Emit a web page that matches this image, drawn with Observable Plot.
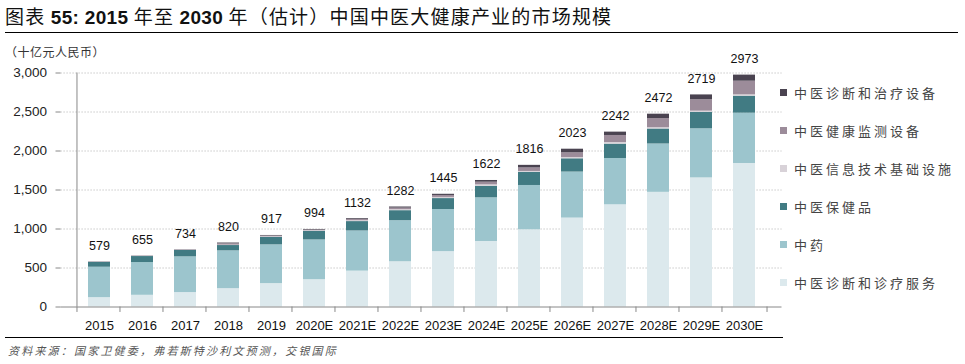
<!DOCTYPE html>
<html><head><meta charset="utf-8">
<script src="https://cdn.jsdelivr.net/npm/d3@7"></script>
<script src="https://cdn.jsdelivr.net/npm/@observablehq/plot@0.6"></script>
<style>
body{margin:0;background:#fff;}
#wrap{position:relative;width:965px;height:364px;overflow:hidden;font-family:"Noto Sans CJK SC",sans-serif;background:#fff;}
#chart{position:absolute;left:0;top:0;}
#title{position:absolute;left:5px;top:4px;font-size:19px;letter-spacing:1.2px;color:#111;white-space:nowrap;line-height:24px;}
#title b{font-family:"Liberation Sans",Arial,sans-serif;font-weight:bold;letter-spacing:0.3px;}
#tline{position:absolute;left:5px;top:32px;width:953px;height:1px;background:#000;}
#unit{position:absolute;left:5px;top:43px;font-size:12px;color:#333;letter-spacing:0.5px;white-space:nowrap;}
#bline{position:absolute;left:5px;top:337px;width:778px;height:1.3px;background:#000;}
#source{position:absolute;left:8px;top:342px;font-size:11px;font-style:italic;letter-spacing:2.2px;color:#555;white-space:nowrap;}
.lg{position:absolute;left:780px;height:16px;display:flex;align-items:center;white-space:nowrap;font-size:13px;letter-spacing:3px;color:#444;}
.lg i{display:inline-block;width:7px;height:7px;margin-right:7px;}
</style></head><body><div id="wrap">
<div id="chart"></div>
<div id="title">图表 <b>55: 2015</b> 年至 <b>2030</b> 年（估计）中国中医大健康产业的市场规模</div>
<div id="tline"></div>
<div id="unit">（十亿元人民币）</div>
<div id="legend"></div>
<div id="bline"></div>
<div id="source">资料来源：国家卫健委，弗若斯特沙利文预测，交银国际</div>
</div>
<script>
const years = ["2015","2016","2017","2018","2019","2020E","2021E","2022E","2023E","2024E","2025E","2026E","2027E","2028E","2029E","2030E"];
const series = ["中医诊断和诊疗服务","中药","中医保健品","中医信息技术基础设施","中医健康监测设备","中医诊断和治疗设备"];
const service = [120,150,185,235,300,350,460,580,710,840,990,1140,1310,1470,1655,1840];
const herbs   = [390,420,458,485,497,510,515,527,540,560,568,590,594,620,630,645];
const healthProducts = [62,77,82,68,95,110,120,128,140,148,168,170,184,192,210,218];
const infoInfra = [2,3,3,5,8,8,12,13,15,18,12,17,21,17,16,17];
const monitorDevices = [3,3,3,17,10,9,15,20,25,34,45,60,90,116,146,175];
const treatDevices = [2,2,3,10,7,7,10,14,15,22,33,46,43,57,62,78];
const totals = [579,655,734,820,917,994,1132,1282,1445,1622,1816,2023,2242,2472,2719,2973];
const yTicks = [0,500,1000,1500,2000,2500,3000];
const colors = ["#dce9ed","#9cc5cd","#417b83","#d8d2d8","#9c8c9a","#4a4350"];

const seriesValues = [service, herbs, healthProducts, infoInfra, monitorDevices, treatDevices];
const rows = [];
years.forEach((yr, i) => series.forEach((s, j) => rows.push({year: yr, series: s, value: seriesValues[j][i]})));
const labels = years.map((yr, i) => ({year: yr, total: totals[i]}));

const fontNum = "Liberation Sans, Arial, sans-serif";
const chart = Plot.plot({
  width: 965, height: 364,
  marginLeft: 60.5, marginRight: 183.5, marginTop: 72.5, marginBottom: 57.5,
  style: {background: "transparent", fontFamily: fontNum},
  x: {domain: years, padding: 0.5, label: null},
  y: {domain: [0, 3000], label: null},
  color: {domain: series, range: colors},
  marks: [
    Plot.ruleY(yTicks.slice(1), {stroke: "#bdbdbd", strokeDasharray: "1.2,1.8", strokeWidth: 1}),
    Plot.barY(rows, {x: "year", y: "value", fill: "series", order: series}),
    Plot.text(labels, {x: "year", y: "total", text: d => String(d.total), dy: -16, fontSize: 12.5, fill: "#111", fontFamily: fontNum}),
    Plot.axisY({ticks: yTicks, tickFormat: d3.format(","), tickSize: 5, tickPadding: 9, fontSize: 13.5, stroke: "#888", fill: "#222", label: null}),
    Plot.axisX({tickSize: 0, tickPadding: 14, fontSize: 13, fill: "#111", label: null}),
    Plot.ruleX(years, {x: d => d, y1: 0, y2: -70, dx: -22.53, stroke: "#888"}),
    Plot.ruleX(years.slice(-1), {x: d => d, y1: 0, y2: -70, dx: 22.53, stroke: "#888"}),
    Plot.ruleY([0], {stroke: "#888"}),
    Plot.ruleX(years.slice(0,1), {x: d => d, y1: 0, y2: 3000, dx: -22.53, stroke: "#888"})
  ]
});
document.getElementById("chart").appendChild(chart);

const legendOrder = [5,4,3,2,1,0];
const legendTops = [84,122,160,198,236,274];
const lg = document.getElementById("legend");
legendOrder.forEach((j, k) => {
  const d = document.createElement("div");
  d.className = "lg";
  d.style.top = legendTops[k] + "px";
  d.innerHTML = `<i style="background:${colors[j]}"></i>${series[j]}`;
  lg.appendChild(d);
});
</script>
</body></html>
